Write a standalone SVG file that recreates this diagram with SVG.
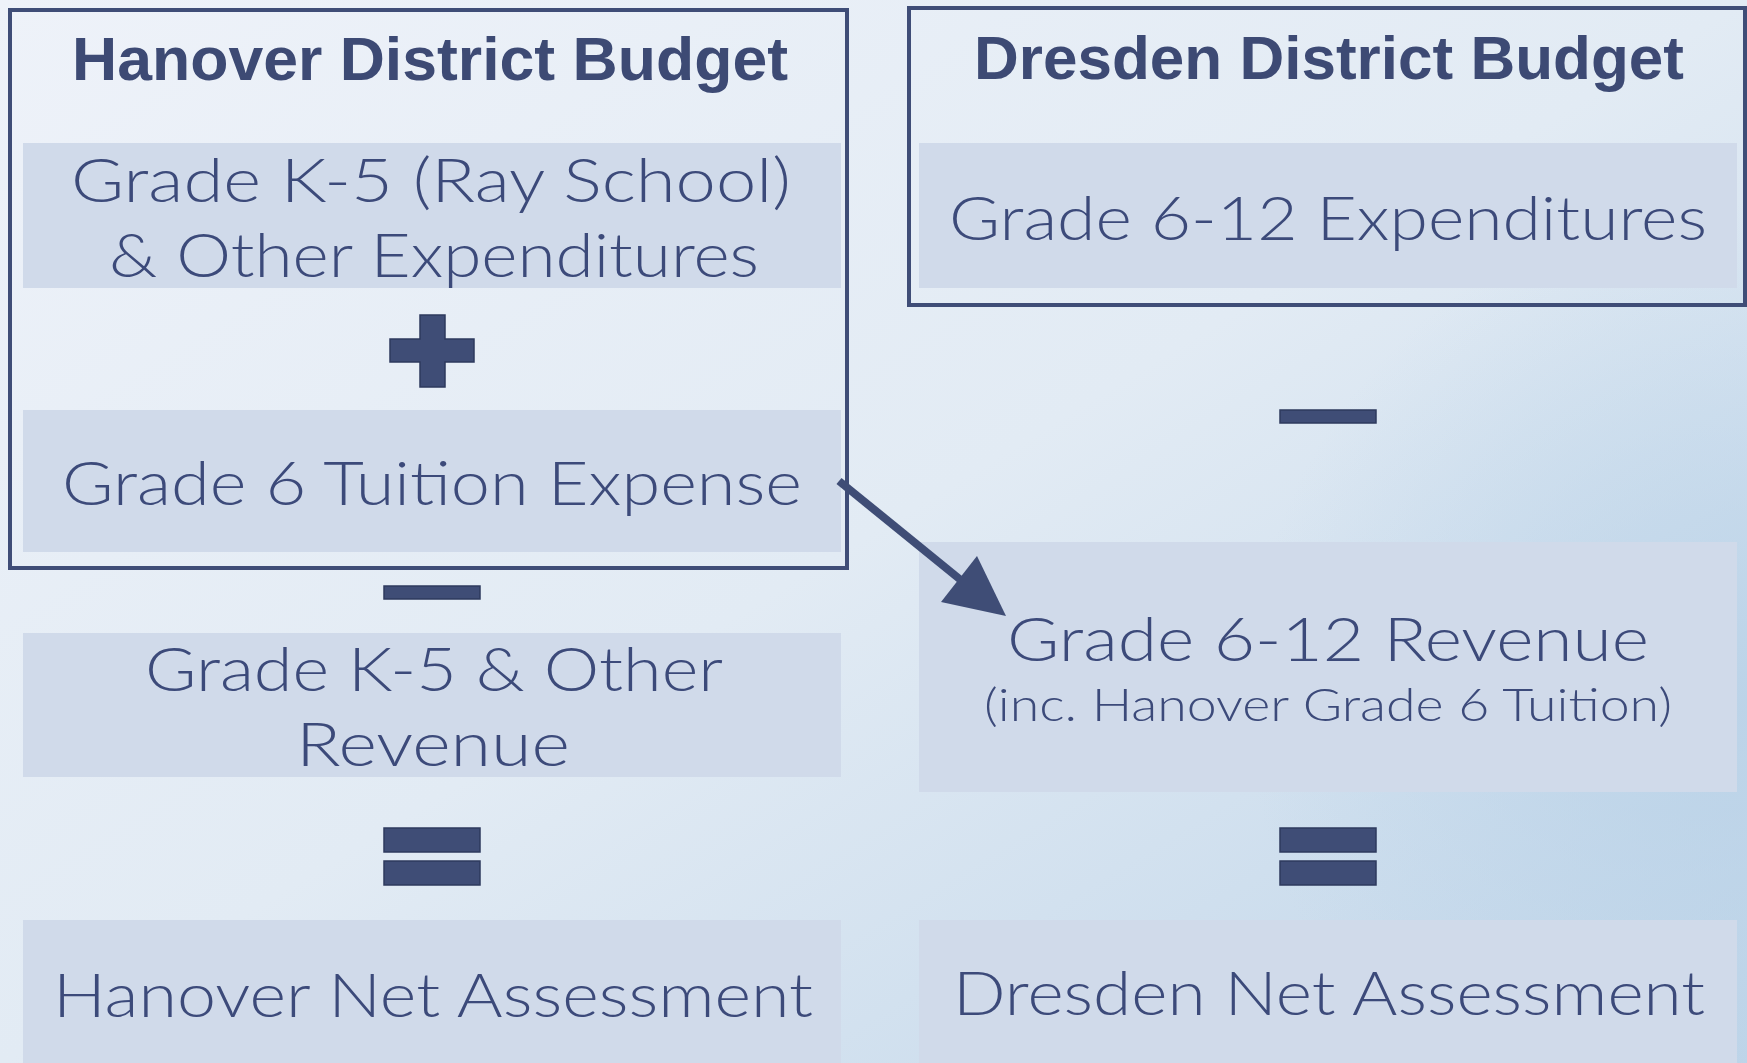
<svg xmlns="http://www.w3.org/2000/svg" width="1747" height="1063" viewBox="0 0 1747 1063">
<defs>
<linearGradient id="bg" x1="0" y1="0" x2="1" y2="1">
<stop offset="0" stop-color="#EEF2F9"/>
<stop offset="0.5" stop-color="#E2EBF4"/>
<stop offset="1" stop-color="#BFD5E9"/>
</linearGradient>
<radialGradient id="glow" cx="1747" cy="700" r="500" gradientUnits="userSpaceOnUse">
<stop offset="0" stop-color="#B8D1E7" stop-opacity="0.8"/>
<stop offset="1" stop-color="#B8D1E7" stop-opacity="0"/>
</radialGradient>
<style>
.box{fill:#D0DAEA;}
.frame{fill:none;stroke:#3F4D77;stroke-width:4;}
.sym{fill:#3F4D76;stroke:#2E3A5E;stroke-width:1.5;}
.t{font-family:Lato,"Liberation Sans",Arial,sans-serif;font-weight:300;font-size:62px;fill:#3C4A7A;text-anchor:middle;}
.s{font-size:46px;}
.h{font-family:"Liberation Sans",Arial,sans-serif;font-weight:bold;fill:#3D4A74;}
</style>
</defs>
<rect x="0" y="0" width="1747" height="1063" fill="url(#bg)"/>
<rect x="0" y="0" width="1747" height="1063" fill="url(#glow)"/>

<g id="hanover-frame">
<rect class="frame" x="10" y="10" width="837" height="558"/>
<text class="t h" x="430" y="80" textLength="716" lengthAdjust="spacingAndGlyphs">Hanover District Budget</text>
</g>
<g id="dresden-frame">
<rect class="frame" x="909" y="8" width="836" height="297"/>
<text class="t h" x="1329" y="79" textLength="710" lengthAdjust="spacingAndGlyphs">Dresden District Budget</text>
</g>

<g id="k5-expenditures">
<rect class="box" x="23" y="143" width="818" height="145"/>
<text class="t" x="431" y="202" textLength="720" lengthAdjust="spacingAndGlyphs">Grade K-5 (Ray School)</text>
<text class="t" x="434" y="277" textLength="650" lengthAdjust="spacingAndGlyphs">&amp; Other Expenditures</text>
</g>
<g id="plus">
<path class="sym" d="M420 315 H445 V339 H474 V362 H445 V387 H420 V362 H390 V339 H420 Z"/>
</g>
<g id="grade6-tuition">
<rect class="box" x="23" y="410" width="818" height="142"/>
<text class="t" x="432" y="505" textLength="740" lengthAdjust="spacingAndGlyphs">Grade 6 Tuition Expense</text>
</g>
<g id="minus-left">
<rect class="sym" x="384" y="586" width="96" height="13"/>
</g>
<g id="k5-revenue">
<rect class="box" x="23" y="633" width="818" height="144"/>
<text class="t" x="434" y="691" textLength="578" lengthAdjust="spacingAndGlyphs">Grade K-5 &amp; Other</text>
<text class="t" x="433" y="766" textLength="274" lengthAdjust="spacingAndGlyphs">Revenue</text>
</g>
<g id="equals-left">
<rect class="sym" x="384" y="828" width="96" height="24"/>
<rect class="sym" x="384" y="861" width="96" height="24"/>
</g>
<g id="hanover-net">
<rect class="box" x="23" y="920" width="818" height="143"/>
<text class="t" x="433" y="1017" textLength="760" lengthAdjust="spacingAndGlyphs">Hanover Net Assessment</text>
</g>

<g id="dresden-expenditures">
<rect class="box" x="919" y="143" width="818" height="145"/>
<text class="t" x="1328" y="240" textLength="758" lengthAdjust="spacingAndGlyphs">Grade 6-12 Expenditures</text>
</g>
<g id="minus-right">
<rect class="sym" x="1280" y="410" width="96" height="13"/>
</g>
<g id="dresden-revenue">
<rect class="box" x="919" y="542" width="818" height="250"/>
<text class="t" x="1328" y="661" textLength="642" lengthAdjust="spacingAndGlyphs">Grade 6-12 Revenue</text>
<text class="t s" x="1328" y="721" textLength="688" lengthAdjust="spacingAndGlyphs">(inc. Hanover Grade 6 Tuition)</text>
</g>
<g id="equals-right">
<rect class="sym" x="1280" y="828" width="96" height="24"/>
<rect class="sym" x="1280" y="861" width="96" height="24"/>
</g>
<g id="dresden-net">
<rect class="box" x="919" y="920" width="818" height="143"/>
<text class="t" x="1329" y="1015" textLength="752" lengthAdjust="spacingAndGlyphs">Dresden Net Assessment</text>
</g>

<g id="connectors">
<line x1="839" y1="481" x2="962" y2="581" stroke="#3F4D76" stroke-width="8"/>
<polygon points="1006,616 941,602 977,556" fill="#3F4D76"/>
</g>
</svg>
